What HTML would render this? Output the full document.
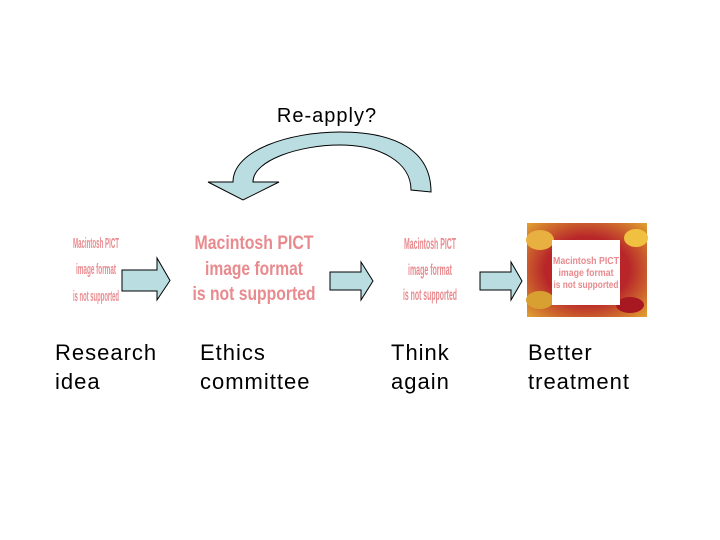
<!DOCTYPE html>
<html><head><meta charset="utf-8"><style>
html,body{margin:0;padding:0;background:#fff;}
svg{display:block;}
text{font-family:"Liberation Sans",sans-serif;}
</style></head><body>
<svg width="720" height="540" viewBox="0 0 720 540" xmlns="http://www.w3.org/2000/svg">
<defs>
<radialGradient id="pill" cx="50%" cy="50%" r="70%">
<stop offset="0" stop-color="#c8202a"/><stop offset="0.5" stop-color="#b8262a"/><stop offset="1" stop-color="#e0a030"/>
</radialGradient>
</defs>
<text x="327" y="122" font-size="20" text-anchor="middle" letter-spacing="1">Re-apply?</text>
<path d="M233,182 C233,150 290,132 340,132 C395,132 431,150 431,192 L411,190 C411,162 380,145 340,145 C300,145 253,160 253,182 L279,182 L243,200 L208,182 Z" fill="#b9dde0" stroke="#000" stroke-width="1"/>
<path d="M122,270 L157,270 L157,258 L170,280.5 L157,300 L157,291 L122,291 Z" fill="#b9dde0" stroke="#000"/>
<path d="M330,272 L361,272 L361,262 L373,281 L361,300 L361,290 L330,290 Z" fill="#b9dde0" stroke="#000"/>
<path d="M480,272 L511,272 L511,262 L522,281 L511,300 L511,290 L480,290 Z" fill="#b9dde0" stroke="#000"/>
<g fill="#e88a8e" font-weight="bold" text-anchor="middle">
<text x="96" y="248" font-size="15" textLength="46" lengthAdjust="spacingAndGlyphs">Macintosh PICT</text>
<text x="96" y="274" font-size="15" textLength="40" lengthAdjust="spacingAndGlyphs">image format</text>
<text x="96" y="301" font-size="15" textLength="46" lengthAdjust="spacingAndGlyphs">is not supported</text>
<text x="254" y="249" font-size="19" textLength="119" lengthAdjust="spacingAndGlyphs">Macintosh PICT</text>
<text x="254" y="275" font-size="19" textLength="98" lengthAdjust="spacingAndGlyphs">image format</text>
<text x="254" y="300" font-size="19" textLength="123" lengthAdjust="spacingAndGlyphs">is not supported</text>
<text x="430" y="249" font-size="16" textLength="52" lengthAdjust="spacingAndGlyphs">Macintosh PICT</text>
<text x="430" y="275" font-size="16" textLength="44" lengthAdjust="spacingAndGlyphs">image format</text>
<text x="430" y="300" font-size="16" textLength="54" lengthAdjust="spacingAndGlyphs">is not supported</text>
</g>
<rect x="527" y="223" width="120" height="94" fill="url(#pill)"/>
<ellipse cx="540" cy="240" rx="14" ry="10" fill="#e8b040"/>
<ellipse cx="636" cy="238" rx="12" ry="9" fill="#f0c040"/>
<ellipse cx="540" cy="300" rx="14" ry="9" fill="#d8a030"/>
<ellipse cx="630" cy="305" rx="14" ry="8" fill="#a81820"/>
<rect x="552" y="240" width="68" height="65" fill="#fff"/>
<g fill="#e88a8e" font-weight="bold" text-anchor="middle" font-size="10">
<text x="586" y="264" textLength="66" lengthAdjust="spacingAndGlyphs">Macintosh PICT</text>
<text x="586" y="276" textLength="55" lengthAdjust="spacingAndGlyphs">image format</text>
<text x="586" y="288" textLength="65" lengthAdjust="spacingAndGlyphs">is not supported</text>
</g>
<g font-size="22" fill="#000" letter-spacing="1">
<text x="55" y="360">Research</text><text x="55" y="389">idea</text>
<text x="200" y="360">Ethics</text><text x="200" y="389">committee</text>
<text x="391" y="360">Think</text><text x="391" y="389">again</text>
<text x="528" y="360">Better</text><text x="528" y="389">treatment</text>
</g>
</svg>
</body></html>
